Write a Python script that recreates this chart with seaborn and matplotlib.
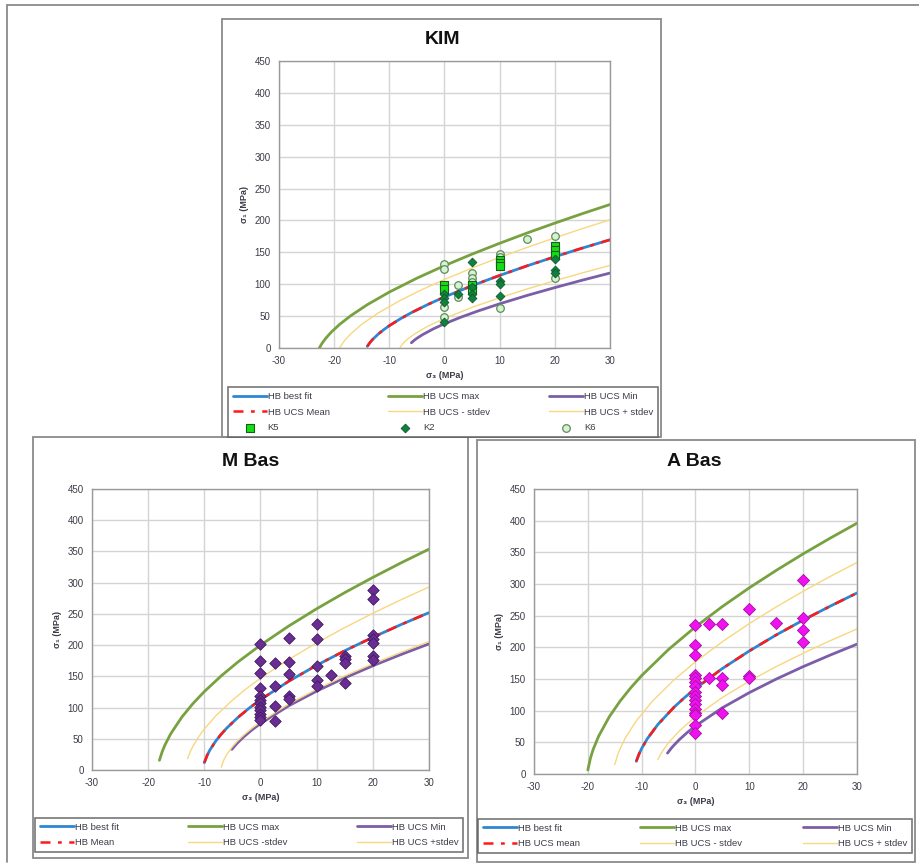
import matplotlib
matplotlib.use("Agg")
import matplotlib.pyplot as plt
import seaborn as sns
import pandas as pd
from matplotlib.patches import Rectangle
from matplotlib.lines import Line2D

# ---------------- DATA ----------------
# KIM panel curves (sigma3, sigma1)
KIM_BEST_X = [-14, -13.5, -13, -12, -11, -10, -8, -6, -3, 0, 5, 10, 15, 20, 25, 30]
KIM_BEST_Y = [2.5, 8.7, 13.7, 21.9, 28.8, 35, 45.8, 55.4, 68.3, 80, 97.7, 113.8, 128.9, 143.1, 156.7, 169.7]
KIM_MEAN_X = [-14, -13.5, -13, -12, -11, -10, -8, -6, -3, 0, 5, 10, 15, 20, 25, 30]
KIM_MEAN_Y = [2.5, 8.7, 13.7, 21.9, 28.8, 35, 45.8, 55.4, 68.3, 80, 97.7, 113.8, 128.9, 143.1, 156.7, 169.7]
KIM_MAX_X = [-22.7, -22.2, -21.5, -20.5, -19, -17, -14, -10, -5, 0, 5, 10, 15, 20, 25, 30]
KIM_MAX_Y = [0, 7.3, 15.5, 25.1, 37.1, 50.6, 67.9, 87.7, 109.5, 129.1, 147.2, 164.2, 180.4, 195.8, 210.7, 225]
KIM_MIN_X = [-6, -5.5, -5, -4, -2, 0, 3, 6, 10, 15, 20, 25, 30]
KIM_MIN_Y = [8.2, 12, 15.2, 20.8, 30.1, 38, 48.4, 57.8, 69.3, 82.5, 94.7, 106.4, 117.5]
KIM_MSTD_X = [-8.1, -7.8, -7.3, -6.5, -5, -3, 0, 5, 10, 15, 20, 25, 30]
KIM_MSTD_Y = [0, 4.2, 9.2, 15.4, 24.4, 34.2, 46.4, 63.7, 78.8, 92.6, 105.5, 117.8, 129.5]
KIM_PSTD_X = [-19, -18.5, -18, -17, -15, -12, -8, -4, 0, 5, 10, 15, 20, 25, 30]
KIM_PSTD_Y = [0, 7.1, 12.8, 22.2, 37.1, 55, 74.7, 91.9, 107.5, 125.4, 142.1, 157.8, 172.8, 187.2, 201]
# KIM test points
K5_X = [0, 0, 5, 5, 10, 10, 10, 20, 20, 20]
K5_Y = [98, 92, 98, 92, 138, 133, 128, 160, 153, 146]
K2_X = [0, 0, 0, 0, 2.5, 5, 5, 5, 5, 10, 10, 10, 20, 20, 20]
K2_Y = [85, 78, 72, 40, 84, 135, 95, 85, 78, 105, 100, 81, 140, 122, 117]
K6_X = [0, 0, 0, 0, 2.5, 2.5, 5, 5, 5, 10, 10, 10, 15, 20, 20]
K6_Y = [131, 124, 65, 48, 98, 80, 117, 110, 103, 148, 142, 62, 171, 176, 110]

# M Bas panel curves
MB_BEST_X = [-10, -9.5, -9, -8, -7, -6, -4, -2, 0, 5, 10, 15, 20, 25, 30]
MB_BEST_Y = [11.8, 23.4, 32.2, 46, 57.3, 67.2, 84.3, 99.2, 112.6, 142, 167.7, 191, 212.5, 232.8, 252]
MB_MEAN_X = [-10, -9.5, -9, -8, -7, -6, -4, -2, 0, 5, 10, 15, 20, 25, 30]
MB_MEAN_Y = [11.8, 23.4, 32.2, 46, 57.3, 67.2, 84.3, 99.2, 112.6, 142, 167.7, 191, 212.5, 232.8, 252]
MB_MAX_X = [-18, -17.5, -17, -16, -14, -12, -10, -7, -4, 0, 5, 10, 15, 20, 25, 30]
MB_MAX_Y = [15.5, 29.4, 40.3, 57.8, 84.8, 106.7, 125.6, 150.7, 173.1, 200, 230.4, 258.2, 284.1, 308.4, 331.6, 353.7]
MB_MIN_X = [-5.1, -4.5, -4, -3, -1.5, 0, 5, 10, 15, 20, 25, 30]
MB_MIN_Y = [33, 39.5, 44.3, 53, 64.4, 74.4, 102.7, 126.4, 147.5, 166.9, 184.9, 202]
MB_MSTD_X = [-7, -6.5, -6, -5, -4, -3, -1.5, 0, 5, 10, 15, 20, 25, 30]
MB_MSTD_Y = [4.2, 16.8, 24.9, 37.3, 47.2, 55.7, 67, 77.1, 105.5, 129.4, 150.7, 170.2, 188.4, 205.7]
MB_PSTD_X = [-13, -12.5, -12, -11, -10, -8, -5, -2.5, 0, 5, 10, 15, 20, 25, 30]
MB_PSTD_Y = [18.1, 29.5, 38.6, 53.4, 65.7, 86.4, 111.9, 130.3, 147, 176.9, 203.6, 228.1, 251, 272.6, 293.1]
# M Bas test points
MB_PTS_X = [0] * 12 + [2.5] * 4 + [5] * 5 + [10] * 5 + [12.5] + [15] * 4 + [20] * 7
MB_PTS_Y = [201, 174, 155, 132, 118, 112, 107, 101, 96, 90, 85, 80,
            171, 134, 103, 79,
            211, 173, 153, 118, 113,
            234, 210, 166, 144, 135,
            152,
            183, 177, 172, 140,
            288, 274, 216, 210, 204, 183, 176]

# A Bas panel curves
AB_BEST_X = [-11, -10.5, -10, -9, -7, -4, -2, 0, 5, 10, 15, 20, 25, 30]
AB_BEST_Y = [20, 31.3, 40.3, 55.1, 78.1, 105.4, 120.9, 135.1, 166.6, 194.3, 219.6, 243, 264.9, 285.8]
AB_MEAN_X = [-11, -10.5, -10, -9, -7, -4, -2, 0, 5, 10, 15, 20, 25, 30]
AB_MEAN_Y = [20, 31.3, 40.3, 55.1, 78.1, 105.4, 120.9, 135.1, 166.6, 194.3, 219.6, 243, 264.9, 285.8]
AB_MAX_X = [-20, -19.5, -19, -18, -16, -14, -12, -10, -5, 0, 5, 10, 15, 20, 25, 30]
AB_MAX_Y = [6.3, 25.5, 39, 59.6, 90.6, 115.2, 136.4, 155.4, 196.7, 232.4, 264.5, 294, 321.5, 347.6, 372.3, 396]
AB_MIN_X = [-5.2, -4.5, -4, -3, -1.5, 0, 5, 10, 15, 20, 25, 30]
AB_MIN_Y = [33, 40.7, 45.5, 54.3, 65.8, 75.9, 104.6, 128.5, 149.9, 169.5, 187.7, 205]
AB_MSTD_X = [-7, -6.5, -6, -5, -3, 0, 5, 10, 15, 20, 25, 30]
AB_MSTD_Y = [22.6, 30.9, 37.8, 49.5, 68.1, 90.6, 120.9, 146.6, 169.6, 190.7, 210.4, 229]
AB_PSTD_X = [-15, -14.5, -14, -13, -11, -8, -4, 0, 5, 10, 15, 20, 25, 30]
AB_PSTD_Y = [14.7, 29.1, 40, 57.4, 84, 115, 148.5, 177.2, 208.9, 237.5, 263.8, 288.5, 311.8, 334]
# A Bas test points
AB_PTS_X = [0] * 16 + [2.5] * 2 + [5] * 4 + [10] * 3 + [15] + [20] * 4
AB_PTS_Y = [235, 204, 188, 157, 151, 146, 139, 130, 123, 117, 110, 103, 97, 93, 78, 65,
            237, 152,
            237, 152, 140, 96,
            261, 155, 152,
            239,
            307, 247, 227, 209]

X_TICKS = [-30, -20, -10, 0, 10, 20, 30]
Y_TICKS = [0, 50, 100, 150, 200, 250, 300, 350, 400, 450]

TITLES = ["KIM", "M Bas", "A Bas"]
LEG_KIM = ["HB best fit", "HB UCS Mean", "HB UCS max", "HB UCS - stdev", "HB UCS Min", "HB UCS + stdev"]
LEG_MB = ["HB best fit", "HB Mean", "HB UCS max", "HB UCS -stdev", "HB UCS Min", "HB UCS +stdev"]
LEG_AB = ["HB best fit", "HB UCS mean", "HB UCS max", "HB UCS - stdev", "HB UCS Min", "HB UCS + stdev"]

# ---------------- STYLE ----------------
sns.set_style("white")
plt.rcParams['font.family'] = ['Liberation Sans', 'DejaVu Sans']
plt.rcParams['axes.unicode_minus'] = False

C_BLUE = "#2F86D1"
C_RED = "#FF1A1A"
C_GREEN = "#77A23F"
C_PURPLE = "#7B5EA7"
C_YELLOW = "#F8D77E"
TXT = "#3c3c48"
FRAME = "#8a8a8a"

fig = plt.figure(figsize=(9.2, 8.65), dpi=100)
fig.patch.set_facecolor("white")

def fx(px):
    return px / 920.0

def fy(py):
    return 1 - py / 865.0

# panel frames & outer lines
fig.add_artist(Line2D([fx(7), fx(7)], [fy(5), fy(862)], color=FRAME, lw=1.3, transform=fig.transFigure))
fig.add_artist(Line2D([fx(7), fx(920)], [fy(5), fy(5)], color=FRAME, lw=1.3, transform=fig.transFigure))
for (x0, y0, x1, y1) in [(222, 19, 661, 437), (33, 437, 468, 858), (477, 440, 915, 862)]:
    fig.add_artist(Rectangle((fx(x0), fy(y1)), fx(x1) - fx(x0), fy(y0) - fy(y1),
                             fill=False, edgecolor=FRAME, lw=1.3, transform=fig.transFigure))


def curve(ax, xs, ys, color, lw, label, ls="-", z=2):
    df = pd.DataFrame({"s3": xs, "s1": ys})
    sns.lineplot(data=df, x="s3", y="s1", ax=ax, color=color, lw=lw, sort=False,
                 estimator=None, label=label, linestyle=ls, zorder=z)


def style_axes(ax, ylabel):
    ax.set_xlim(-30, 30)
    ax.set_ylim(0, 450)
    ax.set_xticks(X_TICKS)
    ax.set_yticks(Y_TICKS)
    ax.grid(True, color="#d4d4d4", lw=1.0)
    ax.set_axisbelow(True)
    for sp in ax.spines.values():
        sp.set_color("#9a9a9a")
        sp.set_linewidth(1.0)
    ax.tick_params(axis="both", length=0, labelsize=7, colors=TXT, pad=6)
    ax.set_xlabel("σ₃ (MPa)", fontsize=6.5, fontweight="bold", color=TXT, labelpad=3)
    ax.set_ylabel(ylabel, fontsize=6.5, fontweight="bold", color=TXT, labelpad=4)


def draw_curves(ax, data, labels):
    (bx, by, mx, my, xx, xy, nx, ny, msx, msy, psx, psy) = data
    curve(ax, bx, by, C_BLUE, 2.0, labels[0])
    curve(ax, xx, xy, C_GREEN, 2.0, labels[2])
    curve(ax, nx, ny, C_PURPLE, 2.0, labels[4])
    curve(ax, msx, msy, C_YELLOW, 1.0, labels[3])
    curve(ax, psx, psy, C_YELLOW, 1.0, labels[5])
    curve(ax, mx, my, C_RED, 1.8, labels[1], ls=(0, (4, 3, 1.5, 3)), z=2.5)


def panel_legend(ax, order, bbox, fs=6.8, hl=3.6):
    h, l = ax.get_legend_handles_labels()
    lookup = dict(zip(l, h))
    hs = [lookup[k] for k in order]
    leg = fig.legend(hs, order, loc="lower left", bbox_to_anchor=bbox, bbox_transform=fig.transFigure,
                     mode="expand", ncol=3, fontsize=fs, frameon=True, fancybox=False,
                     edgecolor="#555555", handlelength=hl, handletextpad=0.1, borderaxespad=0,
                     labelspacing=0.7, borderpad=0.5, columnspacing=1.0)
    leg.get_frame().set_linewidth(1.2)
    for t in leg.get_texts():
        t.set_color(TXT)
    if ax.get_legend():
        ax.get_legend().remove()
    return leg

# ---------------- KIM ----------------
ax1 = fig.add_axes([fx(279), fy(348), fx(610) - fx(279), fy(61) - fy(348)])
draw_curves(ax1, (KIM_BEST_X, KIM_BEST_Y, KIM_MEAN_X, KIM_MEAN_Y, KIM_MAX_X, KIM_MAX_Y,
                  KIM_MIN_X, KIM_MIN_Y, KIM_MSTD_X, KIM_MSTD_Y, KIM_PSTD_X, KIM_PSTD_Y), LEG_KIM)
sns.scatterplot(x=K6_X, y=K6_Y, ax=ax1, marker="o", s=30, color="#d6f2cf", edgecolor="#5e8c5e",
                linewidth=0.9, label="K6", zorder=3)
sns.scatterplot(x=K5_X, y=K5_Y, ax=ax1, marker="s", s=26, color="#12e012", edgecolor="#1d5a1d",
                linewidth=0.8, label="K5", zorder=3.2)
sns.scatterplot(x=K2_X, y=K2_Y, ax=ax1, marker="D", s=20, color="#11803e", edgecolor="#0c5a2c",
                linewidth=0.6, label="K2", zorder=3.4)
style_axes(ax1, "σ₁ (MPa)")
panel_legend(ax1, ["HB best fit", "HB UCS Mean", "K5", "HB UCS max", "HB UCS - stdev", "K2",
                   "HB UCS Min", "HB UCS + stdev", "K6"],
             (fx(228), fy(437), fx(658) - fx(228), fy(384) - fy(437)))
fig.text(fx(443), fy(39), TITLES[0], ha="center", va="center", fontsize=14, fontweight="bold", color="#111111")

# ---------------- M Bas ----------------
ax2 = fig.add_axes([fx(92), fy(770), fx(429) - fx(92), fy(489) - fy(770)])
draw_curves(ax2, (MB_BEST_X, MB_BEST_Y, MB_MEAN_X, MB_MEAN_Y, MB_MAX_X, MB_MAX_Y,
                  MB_MIN_X, MB_MIN_Y, MB_MSTD_X, MB_MSTD_Y, MB_PSTD_X, MB_PSTD_Y), LEG_MB)
sns.scatterplot(x=MB_PTS_X, y=MB_PTS_Y, ax=ax2, marker="D", s=34, color="#6a2d93", edgecolor="#3f1a5c",
                linewidth=0.6, zorder=3, legend=False)
style_axes(ax2, "σ₁ (MPa)")
panel_legend(ax2, ["HB best fit", "HB Mean", "HB UCS max", "HB UCS -stdev", "HB UCS Min", "HB UCS +stdev"],
             (fx(35), fy(852), fx(463) - fx(35), fy(807) - fy(852)))
fig.text(fx(251), fy(461), TITLES[1], ha="center", va="center", fontsize=14, fontweight="bold", color="#111111")

# ---------------- A Bas ----------------
ax3 = fig.add_axes([fx(534), fy(774), fx(857) - fx(534), fy(489) - fy(774)])
draw_curves(ax3, (AB_BEST_X, AB_BEST_Y, AB_MEAN_X, AB_MEAN_Y, AB_MAX_X, AB_MAX_Y,
                  AB_MIN_X, AB_MIN_Y, AB_MSTD_X, AB_MSTD_Y, AB_PSTD_X, AB_PSTD_Y), LEG_AB)
sns.scatterplot(x=AB_PTS_X, y=AB_PTS_Y, ax=ax3, marker="D", s=38, color="#f011f0", edgecolor="#a410a4",
                linewidth=0.6, zorder=3, legend=False)
style_axes(ax3, "σ₁ (MPa)")
panel_legend(ax3, ["HB best fit", "HB UCS mean", "HB UCS max", "HB UCS - stdev", "HB UCS Min", "HB UCS + stdev"],
             (fx(478), fy(853), fx(912) - fx(478), fy(808) - fy(853)))
fig.text(fx(694), fy(461), TITLES[2], ha="center", va="center", fontsize=14, fontweight="bold", color="#111111")

fig.savefig("out.png", dpi=100, facecolor="white")
